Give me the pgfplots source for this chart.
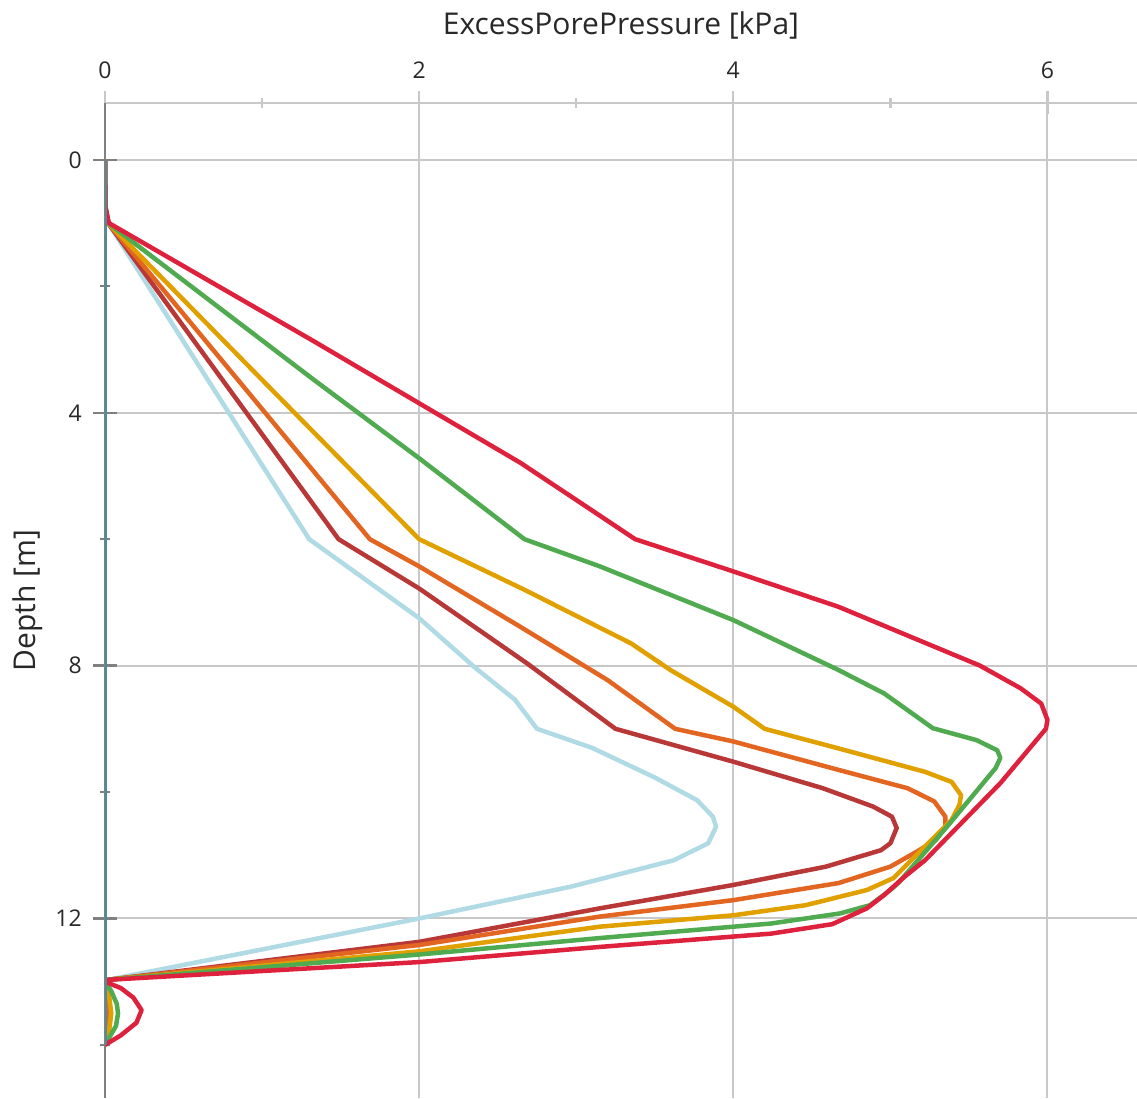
\documentclass[border=0pt]{standalone}
\usepackage{fontspec}
\setmainfont{Open Sans}
\usepackage{pgfplots}
\pgfplotsset{compat=1.18}

\definecolor{cTeal}{RGB}{74,140,160}
\definecolor{cLight}{RGB}{176,218,228}
\definecolor{cBrown}{RGB}{184,56,56}
\definecolor{cOrange}{RGB}{226,102,34}
\definecolor{cGold}{RGB}{224,160,0}
\definecolor{cGreen}{RGB}{80,170,80}
\definecolor{cRed}{RGB}{222,34,62}
\definecolor{gridgray}{RGB}{200,200,200}
\definecolor{axisgray}{RGB}{128,128,128}
\definecolor{txt}{RGB}{40,40,40}

\begin{document}
\begin{tikzpicture}
\begin{axis}[
    set layers,
    scale only axis,
    width=412.8pt, height=398pt,
    xmin=0, xmax=6.57,
    ymin=-0.9, ymax=14.84,
    y dir=reverse,
    axis x line=top, axis y line=left,
    x axis line style={gridgray, line width=0.9pt, -},
    y axis line style={axisgray, line width=0.9pt, -},
    xtick={0,2,4,6}, minor xtick={1,3,5},
    ytick={0,4,8,12}, minor ytick={2,6,10,14},
    tick align=center,
    major tick length=9.2pt, minor tick length=4pt,
    xtick style={gridgray, line width=0.9pt},
    ytick style={axisgray, line width=0.9pt},
    xmajorgrids, ymajorgrids,
    grid style={gridgray, line width=0.8pt},
    /pgf/number format/assume math mode=true,
    tick label style={font=\fontsize{9.2}{11}\selectfont, text=txt},
    xticklabel style={yshift=1.6pt},
    yticklabel style={xshift=-1.2pt},
    xlabel={ExcessPorePressure [kPa]},
    ylabel={Depth [m]},
    label style={font=\fontsize{12}{14}\selectfont, text=txt},
    xlabel style={at={(axis description cs:0.5,1.0784)}, anchor=center},
    ylabel style={at={(axis description cs:-0.0746,0.5)}, anchor=center},
    every axis plot/.append style={line width=1.8pt, line join=round},
]
\addplot[cLight] coordinates {
(0,0)(0.003,0.75)(0.02,1)(0.655,3.48)(1.30,6)(2.0,7.25)(2.35,8.02)(2.61,8.54)(2.75,9.0)
(3.1,9.3)(3.5,9.77)(3.77,10.13)(3.87,10.39)(3.89,10.55)(3.84,10.81)(3.62,11.08)
(2.96,11.5)(2.0,12.0)(0.02,12.97)(0,13)(0.005,13.5)(0,14)};
\addplot[cBrown] coordinates {
(0,0)(0.003,0.75)(0.02,1)(1.487,6)(2.0,6.78)(2.69,7.97)(3.25,9.0)(4.0,9.52)(4.57,9.94)
(4.89,10.23)(5.01,10.39)(5.04,10.57)(5.0,10.81)(4.94,10.92)(4.59,11.18)(4.0,11.47)
(3.15,11.84)(2.0,12.37)(0.02,12.97)(0,13)(0.01,13.5)(0,14)};
\addplot[cOrange] coordinates {
(0,0)(0.003,0.75)(0.02,1)(1.686,6)(2.0,6.43)(2.64,7.38)(3.2,8.23)(3.63,9.0)(4.0,9.2)
(4.67,9.65)(5.11,9.94)(5.28,10.15)(5.35,10.39)(5.35,10.55)(5.29,10.76)(5.17,10.94)
(5.0,11.18)(4.67,11.44)(4.0,11.71)(3.15,11.97)(2.0,12.42)(0.02,12.97)(0,13)
(0.02,13.5)(0,14)};
\addplot[cGold] coordinates {
(0,0)(0.003,0.75)(0.02,1)(1.0,3.48)(2.0,6)(2.67,6.8)(3.35,7.65)(3.6,8.07)(4.0,8.65)
(4.2,9.0)(4.67,9.31)(5.22,9.68)(5.39,9.84)(5.45,10.05)(5.44,10.2)(5.39,10.44)
(5.02,11.36)(4.85,11.55)(4.46,11.79)(4.0,11.95)(3.15,12.13)(2.0,12.52)(0.02,12.97)
(0,13)(0.025,13.2)(0.04,13.5)(0.025,13.8)(0,14)};
\addplot[cGreen] coordinates {
(0,0)(0.003,0.75)(0.02,1)(1.33,3.48)(2.0,4.72)(2.67,6)(3.15,6.43)(4.0,7.28)(4.67,8.07)
(4.96,8.44)(5.27,8.99)(5.55,9.18)(5.68,9.34)(5.70,9.46)(5.67,9.62)(5.37,10.52)
(5.05,11.44)(5.0,11.55)(4.87,11.79)(4.68,11.92)(4.24,12.08)(4.0,12.13)(3.15,12.31)
(2.0,12.57)(0.02,12.97)(0,13)(0.04,13.15)(0.075,13.35)(0.083,13.5)(0.07,13.7)
(0.035,13.85)(0,14)};
\addplot[cRed] coordinates {
(0,0)(0.003,0.75)(0.025,1)(1.33,2.87)(2.0,3.85)(2.65,4.8)(3.375,6)(4.0,6.51)
(4.67,7.07)(5.26,7.68)(5.57,8.0)(5.83,8.36)(5.96,8.6)(6.0,8.86)(5.99,9.0)(5.70,9.86)
(5.22,11.08)(5.09,11.34)(4.96,11.63)(4.85,11.84)(4.63,12.09)(4.24,12.24)(3.15,12.45)
(2.0,12.69)(0.02,12.97)(0,13)(0.1,13.1)(0.18,13.25)(0.233,13.45)(0.2,13.65)
(0.1,13.85)(0,14)};
\addplot[cTeal, line width=1.3pt] coordinates {(0,0) (0,14)};
\end{axis}
\pgfresetboundingbox
\path (current axis.south west) ++(-42pt,0) coordinate (bbA);
\path (current axis.north east) ++(0,41.2pt) coordinate (bbB);
\useasboundingbox (bbA) rectangle (bbB);
\end{tikzpicture}
\end{document}
